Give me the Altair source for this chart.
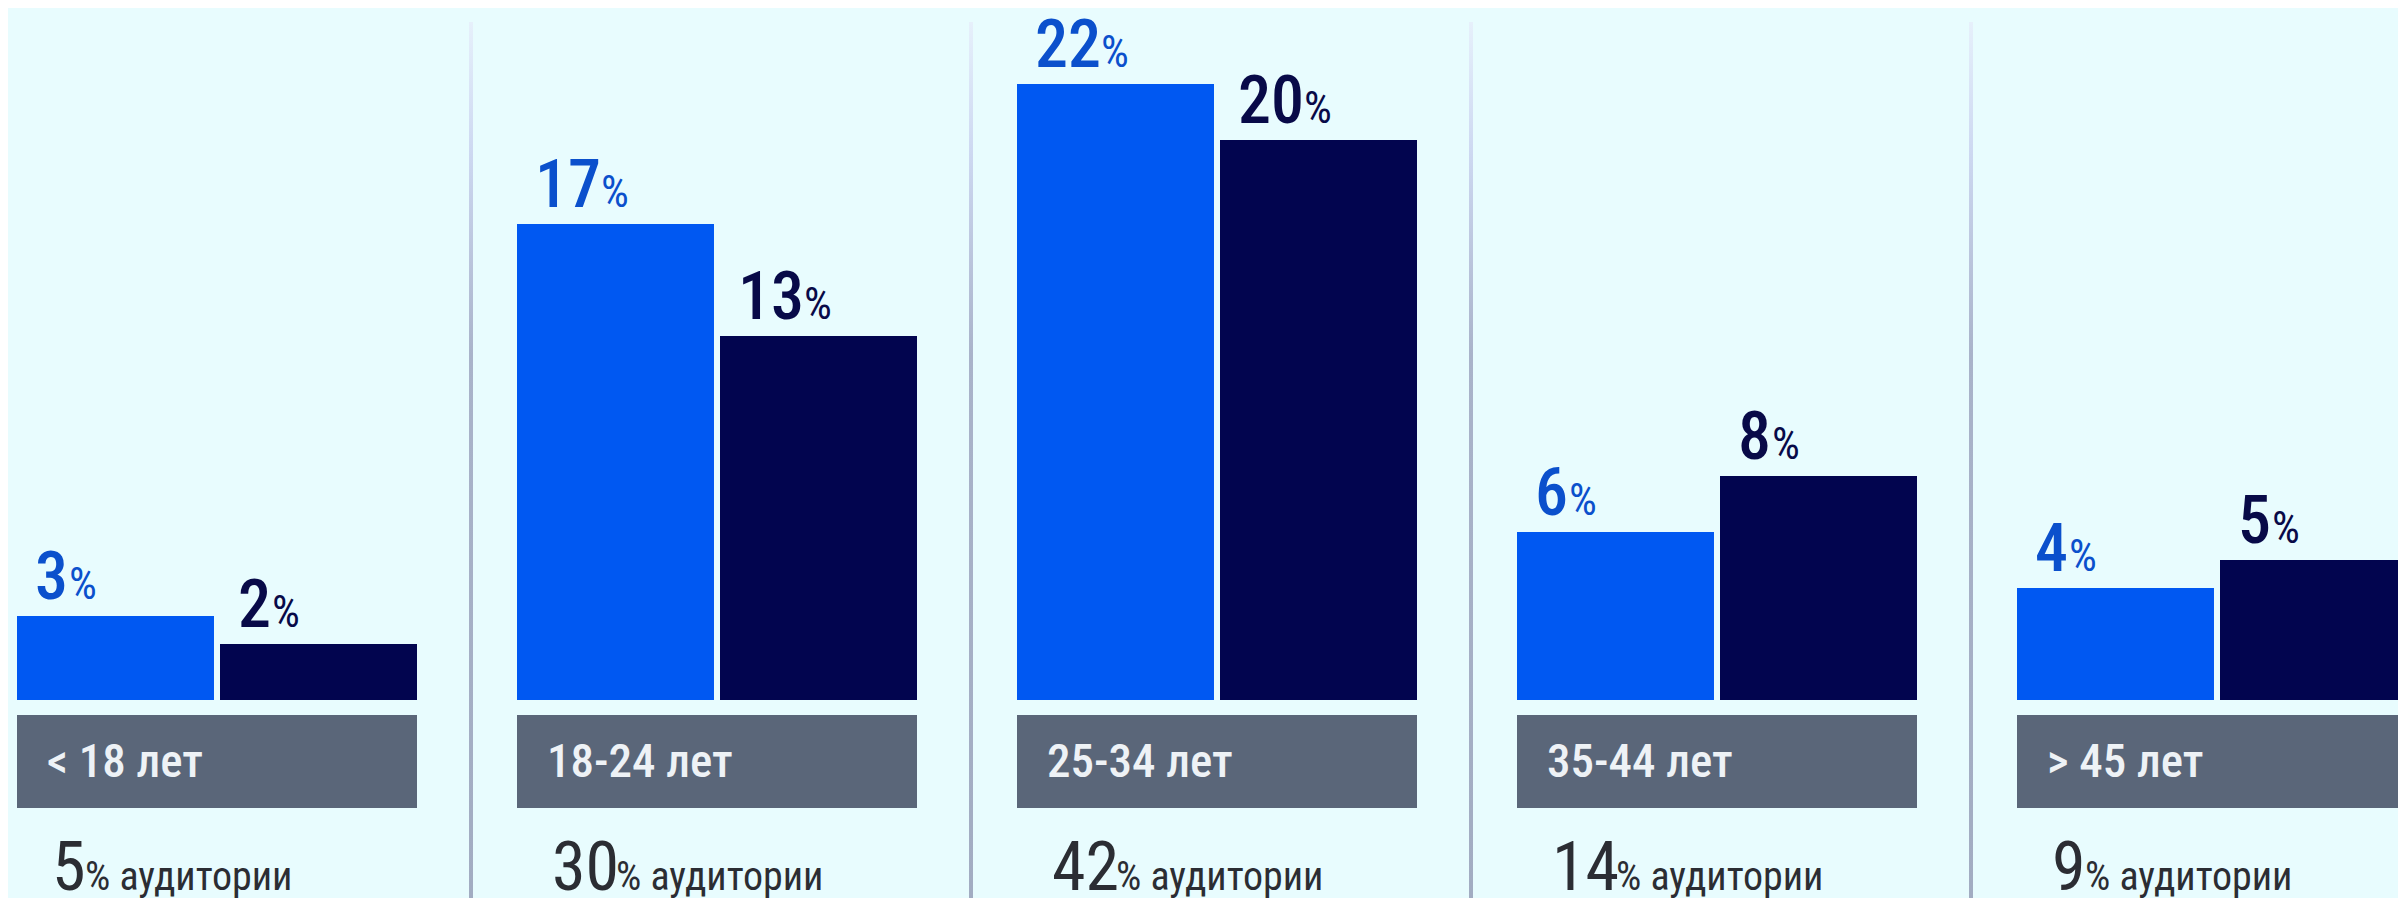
import altair as alt
import pandas as pd

# ---- data ----
groups = ["< 18 лет", "18-24 лет", "25-34 лет", "35-44 лет", "> 45 лет"]
series_names = ["Серия 1", "Серия 2"]
values_1 = [3, 17, 22, 6, 4]
values_2 = [2, 13, 20, 8, 5]
audience = [5, 30, 42, 14, 9]

bars_df = pd.DataFrame({
    "group": groups * 2,
    "series": [series_names[0]] * len(groups) + [series_names[1]] * len(groups),
    "value": values_1 + values_2,
})
groups_df = pd.DataFrame({"group": groups, "audience": audience})

# ---- styles ----
BG = "#e8fcfe"
BLUE = "#0058f2"
NAVY = "#02054f"
BLUE_TXT = "#0b50cc"
NAVY_TXT = "#080a48"
GRAY = "#5a6679"
FONT = "Roboto Condensed, Liberation Sans Narrow, Roboto, sans-serif"

x_scale = alt.Scale(domain=groups, range=[0, 2418], paddingInner=0.2, paddingOuter=0.018)
y_scale = alt.Scale(domain=[-7.071, 24.714])
xo_scale = alt.Scale(domain=series_names, paddingInner=0.0296, paddingOuter=0)


def xg(**kw):
    return alt.X("group:N", scale=x_scale, axis=None, sort=groups, **kw)


def xo():
    return alt.XOffset("series:N", scale=xo_scale, sort=series_names)


yv = alt.Y("value:Q", scale=y_scale, axis=None)

# separators between groups
sep = alt.Chart(groups_df).transform_filter(
    alt.FieldOneOfPredicate(field="group", oneOf=groups[:-1])
).mark_rect(
    xOffset=52,
    x2Offset=56,
    fill=alt.Gradient(
        gradient="linear", x1=0, x2=0, y1=0, y2=1,
        stops=[
            alt.GradientStop(offset=0, color="#e6f0fb"),
            alt.GradientStop(offset=0.15, color="#cdd8f1"),
            alt.GradientStop(offset=0.38, color="#a9b3ca"),
            alt.GradientStop(offset=1, color="#a2acc2"),
        ],
    ),
).encode(
    x=xg(bandPosition=1),
    x2=alt.X2(field="group", bandPosition=1),
    y=alt.value(14),
    y2=alt.value(890),
)

# gray label boxes
boxes = alt.Chart(groups_df).mark_bar(color=GRAY).encode(
    x=xg(), y=alt.value(707), y2=alt.value(800)
)

box_text = alt.Chart(groups_df).mark_text(
    align="left", baseline="alphabetic", dx=30, font=FONT, fontSize=47,
    fontWeight=500, color="#eef2f6"
).encode(x=xg(bandPosition=0), y=alt.value(769), text="group:N")

# bars
bars = alt.Chart(bars_df).mark_bar().encode(
    x=xg(),
    xOffset=xo(),
    y=yv,
    y2=alt.datum(0),
    color=alt.Color("series:N", scale=alt.Scale(domain=series_names, range=[BLUE, NAVY]), legend=None),
)

label_fill = alt.Fill("series:N", scale=alt.Scale(domain=series_names, range=[BLUE_TXT, NAVY_TXT]), legend=None)

layers = [sep, boxes, box_text, bars]

for ndig, filt in [(1, "datum.value < 10"), (2, "datum.value >= 10")]:
    num = alt.Chart(bars_df).transform_filter(filt).mark_text(
        align="left", baseline="alphabetic", dx=-80.5, dy=-17, font=FONT, fontSize=66,
        fontWeight=500
    ).encode(x=xg(), xOffset=xo(), y=yv, text=alt.Text("value:Q"), fill=label_fill)
    pct = alt.Chart(bars_df).transform_filter(filt).mark_text(
        align="left", baseline="alphabetic", dx=-80.5 + ndig * 32 + 2, dy=-17, font=FONT, fontSize=44
    ).encode(x=xg(), xOffset=xo(), y=yv, text=alt.value("%"), fill=label_fill)
    layers += [num, pct]

for ndig, filt in [(1, "datum.audience < 10"), (2, "datum.audience >= 10")]:
    aud_num = alt.Chart(groups_df).transform_filter(filt).mark_text(
        align="left", baseline="alphabetic", dx=35, font=FONT, fontSize=68, color="#2b2d33"
    ).encode(x=xg(bandPosition=0), y=alt.value(882), text=alt.Text("audience:Q"))
    aud_rest = alt.Chart(groups_df).transform_filter(filt).mark_text(
        align="left", baseline="alphabetic", dx=35 + ndig * 31 + 2, font=FONT, fontSize=40, color="#2b2d33"
    ).encode(x=xg(bandPosition=0), y=alt.value(882), text=alt.value("% аудитории"))
    layers += [aud_num, aud_rest]

chart = alt.layer(*layers).properties(
    width=2390,
    height=890,
    background=BG,
    padding=0,
    autosize=alt.AutoSizeParams(type="none"),
).configure_view(stroke=None)

chart.save("out.html", embed_options={"renderer": "svg", "actions": False})
